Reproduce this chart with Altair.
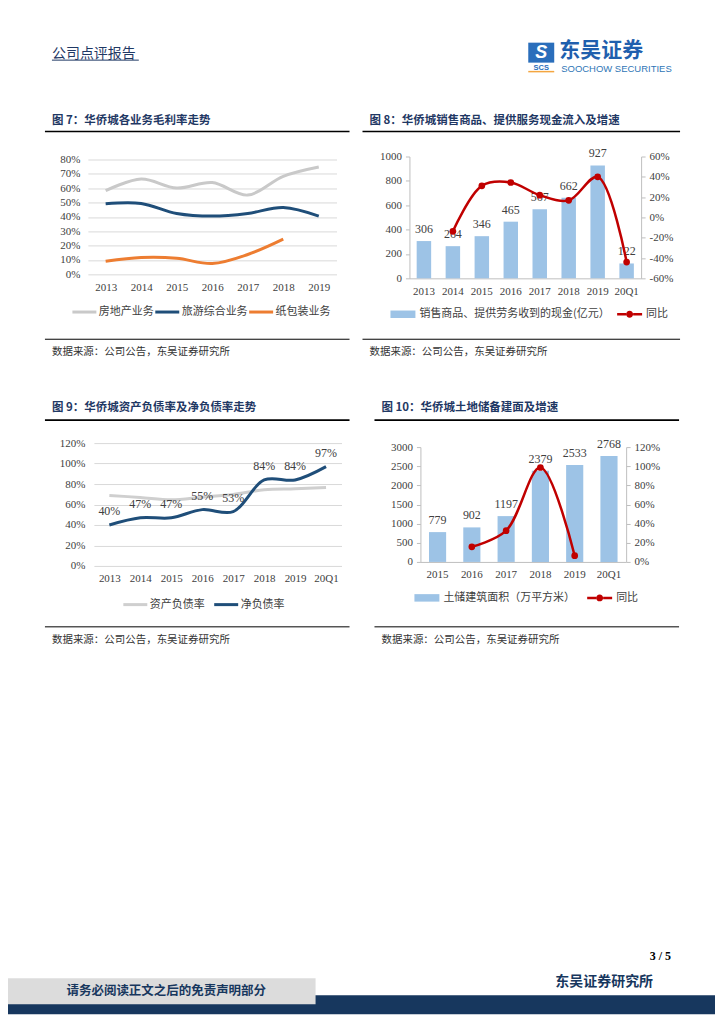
import altair as alt
import pandas as pd

CJK = "Noto Sans CJK SC"
SERIF = "Liberation Serif"
NAVY = "#1f3864"
DNAVY = "#17375e"
AXC = "#404040"
BAR_BLUE = "#9dc3e6"
RED = "#c00000"
SOURCE = "数据来源：公司公告，东吴证券研究所"

# ---------------- data ----------------
# Figure 7
years7 = ["2013", "2014", "2015", "2016", "2017", "2018", "2019"]
series7 = ["房地产业务", "旅游综合业务", "纸包装业务"]
real_estate_margin = [58.3, 66.4, 60.1, 63.9, 55.2, 68.3, 74.8]
tourism_margin = [49.2, 49.4, 42.4, 40.6, 42.4, 46.6, 40.6]
packaging_years = ["2013", "2014", "2015", "2016", "2017", "2018"]
packaging_margin = [9.1, 11.7, 11.2, 7.5, 13.8, 24.5]
colors7 = ["#c9c9c9", "#1f4e79", "#ed7d31"]

# Figure 8
periods8 = ["2013", "2014", "2015", "2016", "2017", "2018", "2019", "20Q1"]
cash8 = [306, 264, 346, 465, 567, 662, 927, 122]
yoy8_periods = ["2014", "2015", "2016", "2017", "2018", "2019", "20Q1"]
yoy8 = [-13.7, 31.1, 34.4, 21.9, 16.8, 40.0, -44.0]
bar8_name = "销售商品、提供劳务收到的现金(亿元）"

# Figure 9
periods9 = ["2013", "2014", "2015", "2016", "2017", "2018", "2019", "20Q1"]
series9 = ["资产负债率", "净负债率"]
asset_liab = [68.8, 66.9, 64.6, 67.2, 69.8, 74.4, 75.4, 76.7]
net_debt = [40, 47, 47, 55, 53, 84, 84, 97]
colors9 = ["#cfcfcf", "#1f4e79"]

# Figure 10
periods10 = ["2015", "2016", "2017", "2018", "2019", "20Q1"]
land10 = [779, 902, 1197, 2379, 2533, 2768]
yoy10_periods = ["2016", "2017", "2018", "2019"]
yoy10 = [15.8, 32.7, 98.7, 6.5]
bar10_name = "土储建筑面积（万平方米）"

# ---------------- helpers ----------------
one = pd.DataFrame({"k": [0]})

BAR_SYM = "M-1,-0.3L1,-0.3L1,0.3L-1,0.3Z"
DOT_SYM = ("M-1,-0.1L-0.28,-0.1L-0.28,0.1L-1,0.1Z "
           "M0.28,-0.1L1,-0.1L1,0.1L0.28,0.1Z "
           "M0.28,0A0.28,0.28,0,1,1,-0.28,0A0.28,0.28,0,1,1,0.28,0Z")


def box(x1, x2, y1, y2, fill="white", opacity=1.0):
    return alt.Chart(one).mark_rect(fill=fill, opacity=opacity).encode(
        x=alt.value(x1), x2=alt.value(x2), y=alt.value(y1), y2=alt.value(y2))


def frame(x1, x2, y1, y2):
    return box(x1, x2, y1, y2, "white", 0.0)


def label(text, x, y, size, color, weight="normal", font=CJK, align="left", style="normal"):
    return alt.Chart(pd.DataFrame({"t": [text]})).mark_text(
        align=align, baseline="middle", fontSize=size, font=font,
        fontWeight=weight, color=color, fontStyle=style
    ).encode(x=alt.value(x), y=alt.value(y), text="t:N")


def hline(x1, x2, y, width, color="#000000"):
    return alt.Chart(one).mark_rule(color=color, strokeWidth=width).encode(
        x=alt.value(x1), x2=alt.value(x2), y=alt.value(y))


def decor(title, tx, ty, r1, r2, ry, by, sy):
    return [label(title, tx, ty, 11.5, NAVY, "bold"),
            hline(r1, r2, ry, 1.6),
            hline(r1, r2, by, 1),
            label(SOURCE, tx, sy, 10.5, "#333333")]


def x_axis(domain=False):
    return alt.Axis(labelAngle=0, title=None, domain=domain, domainColor="#bfbfbf",
                    ticks=False, labelPadding=7, labelFont=SERIF, labelFontSize=11,
                    labelColor=AXC)


def grid_axis(vals, pad):
    return alt.Axis(values=vals, labelExpr="datum.value + '%'", grid=True,
                    gridColor="#d9d9d9", domain=False, ticks=False, labelPadding=pad,
                    title=None)


def side_axis(vals, orient, pct):
    kw = dict(values=vals, orient=orient, grid=False, domain=True, domainColor="#bfbfbf",
              ticks=True, tickColor="#bfbfbf", tickSize=4, labelPadding=4, title=None)
    if pct:
        kw["labelExpr"] = "datum.value + '%'"
    else:
        kw["format"] = "d"
    return alt.Axis(**kw)


def leg_line(lx, ly, colpad):
    return alt.Legend(orient="none", legendX=lx, legendY=ly, direction="horizontal",
                      title=None, symbolType="stroke", symbolSize=576, symbolStrokeWidth=3,
                      labelFont=CJK, labelFontSize=11, labelColor=AXC, labelOffset=1,
                      columnPadding=colpad, padding=0, labelLimit=300)


def leg_sym(lx, ly, sym):
    return alt.Legend(orient="none", legendX=lx, legendY=ly, direction="horizontal",
                      title=None, symbolType=sym, symbolSize=625, symbolStrokeWidth=0,
                      labelFont=CJK, labelFontSize=11, labelColor=AXC, labelOffset=4,
                      padding=0, labelLimit=300)


def anchor():
    # 1px invisible spacer that pins each row's origin to the page's left edge
    return alt.layer(frame(0, 1, 0, 1)).properties(width=1, height=1)


# ---------------- Figure 7 ----------------
rows7 = ([{"p": p, "s": series7[0], "v": v} for p, v in zip(years7, real_estate_margin)]
         + [{"p": p, "s": series7[1], "v": v} for p, v in zip(years7, tourism_margin)]
         + [{"p": p, "s": series7[2], "v": v} for p, v in zip(packaging_years, packaging_margin)])
df7 = pd.DataFrame(rows7)
W7, H7 = 249, 118
lines7 = alt.Chart(df7).mark_line(interpolate="catmull-rom", strokeWidth=3).encode(
    x=alt.X("p:N", sort=years7, axis=x_axis()),
    y=alt.Y("v:Q", scale=alt.Scale(domain=[0, 80], nice=False, range=[118, 3]),
            axis=grid_axis(list(range(0, 81, 10)), 8)),
    color=alt.Color("s7:N", sort=series7, scale=alt.Scale(domain=series7, range=colors7),
                    legend=leg_line(-17, 142, -7)),
).transform_calculate(s7="datum.s")
c7 = alt.layer(
    frame(-79, W7 + 25, -56, H7 + 96), lines7,
    *decor("图 7：华侨城各业务毛利率走势", -36, -36, -43, 262, -25, 183, 196)
).properties(width=W7, height=H7)

# ---------------- Figure 8 ----------------
df8 = pd.DataFrame({"p": periods8, "cash": cash8, "s1": bar8_name})
df8y = pd.DataFrame({"p": yoy8_periods, "yoy": yoy8, "s2": "同比"})
W8, H8 = 232, 122
X8 = alt.X("p:N", sort=periods8,
           scale=alt.Scale(domain=periods8, paddingInner=0.5, paddingOuter=0.25),
           axis=x_axis(True))
Y8L = alt.Y("cash:Q", scale=alt.Scale(domain=[0, 1000], nice=False),
            axis=side_axis(list(range(0, 1001, 200)), "left", False))
Y8R = alt.Y("yoy:Q", scale=alt.Scale(domain=[-60, 60], nice=False),
            axis=side_axis(list(range(-60, 61, 20)), "right", True))
bars8 = alt.Chart(df8).mark_bar().encode(
    x=X8, y=Y8L,
    color=alt.Color("s1:N", scale=alt.Scale(range=[BAR_BLUE]), legend=leg_sym(-19, 145.5, BAR_SYM)))
lab8 = alt.Chart(df8).mark_text(baseline="middle", dy=-12, font=SERIF, fontSize=12,
                                color=AXC).encode(x=X8, y=Y8L, text="cash:Q")
line8 = alt.Chart(df8y).mark_line(color=RED, strokeWidth=2.5,
                                  interpolate="catmull-rom").encode(x=X8, y=Y8R)
pts8 = alt.Chart(df8y).mark_circle(size=45, opacity=1).encode(
    x=X8, y=Y8R,
    color=alt.Color("s2:N", scale=alt.Scale(range=[RED]), legend=leg_sym(208, 145.5, DOT_SYM)))
c8 = alt.layer(
    frame(-47, W8 + 75, -56, H8 + 92),
    alt.layer(bars8, lab8), alt.layer(line8, pts8),
    *decor("图 8：华侨城销售商品、提供服务现金流入及增速", -40, -36, -47, 271, -25, 183, 196)
).resolve_scale(y="independent", color="independent").properties(width=W8, height=H8)

# ---------------- Figure 9 ----------------
rows9 = ([{"p": p, "s": series9[0], "v": v} for p, v in zip(periods9, asset_liab)]
         + [{"p": p, "s": series9[1], "v": v} for p, v in zip(periods9, net_debt)])
df9 = pd.DataFrame(rows9)
df9lab = pd.DataFrame({"p": periods9, "v": net_debt,
                       "lbl": [f"{v}%" for v in net_debt]})
W9, H9 = 248, 123
X9 = alt.X("p:N", sort=periods9, axis=x_axis())
Y9 = alt.Y("v:Q", scale=alt.Scale(domain=[0, 120], nice=False),
           axis=grid_axis(list(range(0, 121, 20)), 9))
lines9 = alt.Chart(df9).mark_line(interpolate="catmull-rom", strokeWidth=3).encode(
    x=X9, y=Y9,
    color=alt.Color("s9:N", sort=series9, scale=alt.Scale(domain=series9, range=colors9),
                    legend=leg_line(28, 148, 3))).transform_calculate(s9="datum.s")
lab9 = alt.Chart(df9lab).mark_text(baseline="middle", dy=-14, font=SERIF, fontSize=12,
                                   color=AXC).encode(x=X9, y=Y9, text="lbl:N")
c9 = alt.layer(
    frame(-85, W9 + 20, -73, H9 + 94), lines9, lab9,
    *decor("图 9：华侨城资产负债率及净负债率走势", -42, -35, -49, 256, -23, 184, 197)
).properties(width=W9, height=H9)

# ---------------- Figure 10 ----------------
df10 = pd.DataFrame({"p": periods10, "area": land10, "s1": bar10_name})
df10y = pd.DataFrame({"p": yoy10_periods, "yoy": yoy10, "s2": "同比"})
W10, H10 = 206, 119
X10 = alt.X("p:N", sort=periods10,
            scale=alt.Scale(domain=periods10, paddingInner=0.5, paddingOuter=0.25),
            axis=x_axis(True))
Y10L = alt.Y("area:Q", scale=alt.Scale(domain=[0, 3000], nice=False, range=[119, 4]),
             axis=side_axis(list(range(0, 3001, 500)), "left", False))
Y10R = alt.Y("yoy:Q", scale=alt.Scale(domain=[0, 120], nice=False, range=[119, 4]),
             axis=side_axis(list(range(0, 121, 20)), "right", True))
bars10 = alt.Chart(df10).mark_bar().encode(
    x=X10, y=Y10L,
    color=alt.Color("s1:N", scale=alt.Scale(range=[BAR_BLUE]), legend=leg_sym(-6, 142.5, BAR_SYM)))
lab10 = alt.Chart(df10).mark_text(baseline="middle", dy=-12, font=SERIF, fontSize=12,
                                  color=AXC).encode(x=X10, y=Y10L, text="area:Q")
line10 = alt.Chart(df10y).mark_line(color=RED, strokeWidth=2.5,
                                    interpolate="catmull-rom").encode(x=X10, y=Y10R)
pts10 = alt.Chart(df10y).mark_circle(size=45, opacity=1).encode(
    x=X10, y=Y10R,
    color=alt.Color("s2:N", scale=alt.Scale(range=[RED]), legend=leg_sym(167, 142.5, DOT_SYM)))
c10 = alt.layer(
    frame(-59, W10 + 89, -73, H10 + 98),
    alt.layer(bars10, lab10), alt.layer(line10, pts10),
    *decor("图 10：华侨城土地储备建面及增速", -39, -35, -46, 259, -23, 184, 197)
).resolve_scale(y="independent", color="independent").properties(width=W10, height=H10)

# ---------------- header / footer ----------------
header = alt.layer(
    box(0, 708, 0, 92),
    label("公司点评报告", 44, 45, 14, NAVY),
    hline(44, 131, 51.5, 1, NAVY),
    box(521, 547, 34, 54, "#2a6ebb"),
    label("S", 534, 44, 18, "white", "bold", "Liberation Sans", "center", "italic"),
    label("SCS", 534, 59, 7.5, "#2a6ebb", "bold", "Liberation Sans", "center"),
    hline(521, 547, 63, 1.5, "#f4a640"),
    label("东吴证券", 552, 42, 21, "#1f5fae", "bold"),
    label("SOOCHOW SECURITIES", 554, 60, 9.5, "#2e75b6", "normal", "Liberation Sans"),
).properties(width=708, height=92)

footer = alt.layer(
    box(0, 708, 0, 355),
    box(0, 708, 336, 355, DNAVY),
    box(0, 308, 319, 345, "#dcdcdc"),
    label("请务必阅读正文之后的免责声明部分", 158.5, 332, 12.5, DNAVY, "bold", CJK, "center"),
    label("3 / 5", 664, 297, 12, "#000000", "bold", SERIF, "right"),
    label("东吴证券研究所", 646, 323, 14, DNAVY, "bold", CJK, "right"),
).properties(width=708, height=355)

row1 = alt.hconcat(anchor(), c7, c8, spacing=0).resolve_scale(color="independent")
row2 = alt.hconcat(anchor(), c9, c10, spacing=0).resolve_scale(color="independent")

chart = alt.vconcat(header, row1, row2, footer, spacing=0).resolve_scale(
    color="independent"
).properties(
    padding=0, background="white"
).configure_view(stroke=None).configure_axis(
    labelFont=SERIF, labelFontSize=11, labelColor=AXC
).configure_legend(padding=0)

chart.save("out.html", embed_options={"renderer": "svg", "actions": False})
